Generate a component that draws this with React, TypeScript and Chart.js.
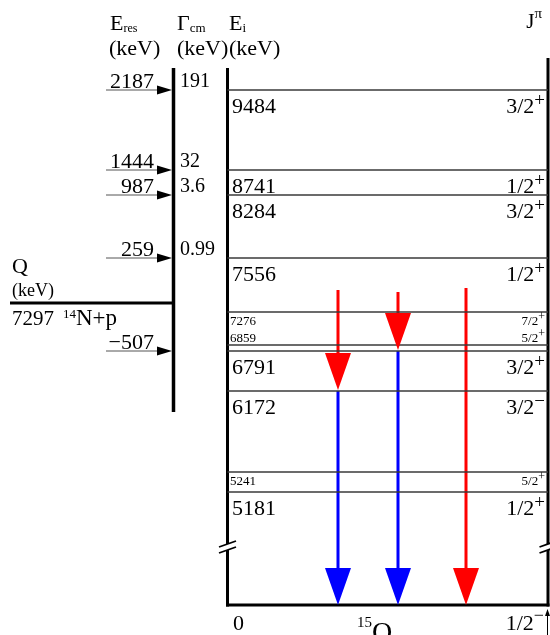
import React, { useEffect, useRef } from "react";
import { Chart, registerables } from "chart.js";

Chart.register(...registerables);

// ---------------- data ----------------
const levelEnergies = [9484, 8741, 8284, 7556, 7276, 6859, 6791, 6172, 5241, 5181];
const levelSpins = ["3/2", "1/2", "3/2", "1/2", "7/2", "5/2", "3/2", "3/2", "5/2", "1/2"];
const levelParities = ["+", "+", "+", "+", "+", "+", "+", "−", "+", "+"];
const levelMinor = [false, false, false, false, true, true, false, false, true, false];
const levelLabelAbove = [false, false, false, false, false, true, false, false, false, false];
// schematic (not-to-scale) heights of the levels in the diagram
const levelHeights = [515, 435, 410, 347, 293, 260, 254, 214, 133, 113];

const qValue = "7297";
const qHeight = 302;
const groundEnergy = "0";
const groundSpin = "1/2";
const groundParity = "−";

const resonanceLevels = [9484, 8741, 8284, 7556, 6791];
const resonanceEnergies = ["2187", "1444", "987", "259", "−507"];
const resonanceWidths = ["191", "32", "3.6", "0.99", ""];

// gamma cascades: capture -> intermediate level -> ground state
const gammaIntermediate: (number | null)[] = [6172, 6791, null];
const gammaStartHeights = [315, 313, 317];

// ---------------- layout ----------------
const X_WIDTH_AXIS = 173.5;
const X_BOX_LEFT = 227.5;
const X_BOX_RIGHT = 548;
const X_Q_LEFT = 10;
const X_RES_START = 106;
const X_RES_HEAD = 157;
const gammaX = [338, 398, 466];
const TOP_LEFT = 537;
const TOP_RIGHT = 547;
const AXIS_BOTTOM = 193;
const BREAK_H = 58;
const HEAD_LEN = 37;
const HEAD_HALF = 13;

const FONT = '"Liberation Serif", "Times New Roman", serif';
const RED = "#ff0000";
const BLUE = "#0000ff";

type Part = { t: string; size: number; dy?: number };

function drawParts(ctx: CanvasRenderingContext2D, parts: Part[], x: number, y: number, align: "left" | "right" = "left") {
  ctx.save();
  ctx.textBaseline = "alphabetic";
  ctx.textAlign = "left";
  ctx.fillStyle = "#000";
  const widths = parts.map((p) => {
    ctx.font = `${p.size}px ${FONT}`;
    return ctx.measureText(p.t).width;
  });
  const total = widths.reduce((a, b) => a + b, 0);
  let cx = align === "right" ? x - total : x;
  parts.forEach((p, i) => {
    ctx.font = `${p.size}px ${FONT}`;
    ctx.fillText(p.t, cx, y + (p.dy || 0));
    cx += widths[i];
  });
  ctx.restore();
}

function tri(ctx: CanvasRenderingContext2D, pts: number[][], color: string) {
  ctx.save();
  ctx.fillStyle = color;
  ctx.beginPath();
  ctx.moveTo(pts[0][0], pts[0][1]);
  ctx.lineTo(pts[1][0], pts[1][1]);
  ctx.lineTo(pts[2][0], pts[2][1]);
  ctx.closePath();
  ctx.fill();
  ctx.restore();
}

function line(ctx: CanvasRenderingContext2D, x1: number, y1: number, x2: number, y2: number, w: number, color: string) {
  ctx.save();
  ctx.strokeStyle = color;
  ctx.lineWidth = w;
  ctx.beginPath();
  ctx.moveTo(x1, y1);
  ctx.lineTo(x2, y2);
  ctx.stroke();
  ctx.restore();
}

const heightOf = (e: number) => levelHeights[levelEnergies.indexOf(e)];

const diagramPlugin = {
  id: "levelDiagram",
  afterDatasetsDraw(chart: any) {
    const ctx: CanvasRenderingContext2D = chart.ctx;
    const X = (v: number) => chart.scales.x.getPixelForValue(v);
    const Y = (v: number) => chart.scales.y.getPixelForValue(v);

    // headers
    drawParts(ctx, [{ t: "E", size: 22 }, { t: "res", size: 12, dy: 2 }], X(110), 30);
    drawParts(ctx, [{ t: "Γ", size: 22 }, { t: "cm", size: 13, dy: 2 }], X(177), 30);
    drawParts(ctx, [{ t: "E", size: 22 }, { t: "i", size: 13, dy: 2 }], X(229), 30);
    drawParts(ctx, [{ t: "(keV)", size: 22 }], X(109), 55);
    drawParts(ctx, [{ t: "(keV)", size: 22 }], X(177), 55);
    drawParts(ctx, [{ t: "(keV)", size: 22 }], X(229), 55);
    drawParts(ctx, [{ t: "J", size: 21 }, { t: "π", size: 15, dy: -10 }], X(542), 28, "right");

    // resonance arrows & labels
    resonanceLevels.forEach((e, i) => {
      const py = Y(heightOf(e));
      tri(ctx, [[X(X_RES_HEAD), py - 4.5], [X(X_WIDTH_AXIS - 1.5), py], [X(X_RES_HEAD), py + 4.5]], "#000");
      drawParts(ctx, [{ t: resonanceEnergies[i], size: 22 }], X(154), py - 2, "right");
      if (resonanceWidths[i]) drawParts(ctx, [{ t: resonanceWidths[i], size: 20 }], X(180), py - 3);
    });

    // Q value
    const qy = Y(qHeight);
    drawParts(ctx, [{ t: "Q", size: 22 }], X(12), qy - 30);
    drawParts(ctx, [{ t: "(keV)", size: 18 }], X(12), qy - 7);
    drawParts(ctx, [{ t: qValue, size: 21 }], X(12), qy + 22);
    drawParts(ctx, [{ t: "14", size: 13, dy: -7 }, { t: "N+p", size: 23 }], X(63), qy + 22);

    // level labels
    levelEnergies.forEach((e, i) => {
      const py = Y(levelHeights[i]);
      if (levelMinor[i]) {
        const by = levelLabelAbove[i] ? py - 3 : py + 13;
        drawParts(ctx, [{ t: String(e), size: 13 }], X(230), by);
        drawParts(ctx, [{ t: levelSpins[i], size: 13 }, { t: levelParities[i], size: 12, dy: -5 }], X(545), by, "right");
      } else {
        const by = py + 23;
        drawParts(ctx, [{ t: String(e), size: 22 }], X(232), by);
        drawParts(ctx, [{ t: levelSpins[i], size: 22 }, { t: levelParities[i], size: 19, dy: -7 }], X(545), by, "right");
      }
    });

    // ground state labels
    const gy = Y(0);
    drawParts(ctx, [{ t: groundEnergy, size: 22 }], X(233), gy + 25);
    drawParts(ctx, [{ t: "15", size: 15, dy: -3 }, { t: "O", size: 28, dy: 11 }], X(357), gy + 25);
    drawParts(ctx, [{ t: groundSpin, size: 22 }, { t: groundParity, size: 18, dy: -9 }], X(544), gy + 25, "right");
    line(ctx, X(547.5), gy + 9, X(547.5), gy + 40, 1, "#000");
    tri(ctx, [[X(545), gy + 11], [X(547.5), gy + 4], [X(550), gy + 11]], "#000");

    // gamma arrowheads
    gammaX.forEach((gx, i) => {
      const mid = gammaIntermediate[i];
      const x = X(gx);
      const tip2 = Y(0);
      if (mid !== null) {
        const tip = Y(heightOf(mid) + 1);
        tri(ctx, [[x - HEAD_HALF, tip - HEAD_LEN], [x + HEAD_HALF, tip - HEAD_LEN], [x, tip]], RED);
        tri(ctx, [[x - HEAD_HALF, tip2 - HEAD_LEN], [x + HEAD_HALF, tip2 - HEAD_LEN], [x, tip2]], BLUE);
      } else {
        tri(ctx, [[x - HEAD_HALF, tip2 - HEAD_LEN], [x + HEAD_HALF, tip2 - HEAD_LEN], [x, tip2]], RED);
      }
    });

    // axis breaks
    const by = Y(BREAK_H);
    [X_BOX_LEFT, X_BOX_RIGHT].forEach((bx) => {
      const x = X(bx);
      [-3, 3].forEach((d) => line(ctx, x - 8.5, by + d + 3, x + 8.5, by + d - 3, 1.8, "#000"));
    });
  },
};

function seg(x1: number, y1: number, x2: number, y2: number, color: string, width: number) {
  return {
    data: [{ x: x1, y: y1 }, { x: x2, y: y2 }],
    borderColor: color,
    borderWidth: width,
    showLine: true,
    pointRadius: 0,
    fill: false,
    tension: 0,
    borderCapStyle: "butt" as const,
  };
}

function buildDatasets() {
  const ds: any[] = [];
  levelHeights.forEach((h) => ds.push(seg(X_BOX_LEFT, h, X_BOX_RIGHT, h, "#3a3a3a", 1.5)));
  ds.push(seg(X_Q_LEFT, qHeight, X_WIDTH_AXIS + 1.5, qHeight, "#000", 3));
  ds.push(seg(X_WIDTH_AXIS, TOP_LEFT, X_WIDTH_AXIS, AXIS_BOTTOM, "#000", 3.5));
  ds.push(seg(X_BOX_LEFT, TOP_LEFT, X_BOX_LEFT, BREAK_H + 3, "#000", 3));
  ds.push(seg(X_BOX_LEFT, BREAK_H - 3, X_BOX_LEFT, -1.5, "#000", 3));
  ds.push(seg(X_BOX_RIGHT, TOP_RIGHT, X_BOX_RIGHT, BREAK_H + 3, "#000", 3));
  ds.push(seg(X_BOX_RIGHT, BREAK_H - 3, X_BOX_RIGHT, -1.5, "#000", 3));
  ds.push(seg(X_BOX_LEFT - 1.5, 0, X_BOX_RIGHT + 1.5, 0, "#000", 3));
  resonanceLevels.forEach((e) => {
    const h = heightOf(e);
    ds.push(seg(X_RES_START, h, X_RES_HEAD + 2, h, "#555", 1));
  });
  gammaX.forEach((gx, i) => {
    const mid = gammaIntermediate[i];
    const start = gammaStartHeights[i];
    if (mid !== null) {
      const h = heightOf(mid);
      ds.push(seg(gx, start, gx, h + HEAD_LEN, RED, 3));
      ds.push(seg(gx, h, gx, HEAD_LEN, BLUE, 3));
    } else {
      ds.push(seg(gx, start, gx, HEAD_LEN, RED, 3));
    }
  });
  return ds;
}

export default function App() {
  const ref = useRef<HTMLCanvasElement | null>(null);
  useEffect(() => {
    if (!ref.current) return;
    const chart = new Chart(ref.current, {
      type: "scatter",
      data: { datasets: buildDatasets() },
      options: {
        responsive: false,
        animation: false,
        events: [],
        devicePixelRatio: 1,
        layout: { padding: 0 },
        plugins: { legend: { display: false }, tooltip: { enabled: false }, title: { display: false } },
        scales: {
          x: { type: "linear", min: 0, max: 550, display: false },
          y: { type: "linear", min: -30, max: 605, display: false },
        },
        elements: { line: { borderJoinStyle: "miter" } },
      },
      plugins: [diagramPlugin],
    });
    return () => chart.destroy();
  }, []);
  return (
    <div style={{ position: "fixed", left: 0, top: 0, width: 550, height: 635, background: "#fff" }}>
      <canvas ref={ref} width={550} height={635} />
    </div>
  );
}
